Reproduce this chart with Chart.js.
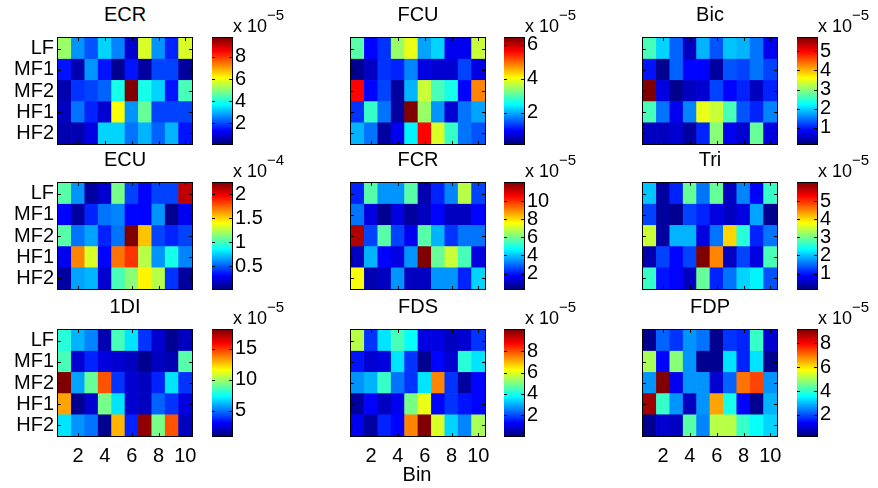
<!DOCTYPE html>
<html>
<head>
<meta charset="utf-8">
<script src="https://cdn.jsdelivr.net/npm/chart.js@4.4.1/dist/chart.umd.min.js"></script>
<style>
  body { margin: 0; background: #fff; }
  #fig { position: relative; width: 878px; height: 488px; overflow: hidden;
         font-family: "Liberation Sans", Arial, Helvetica, sans-serif; color: #000; }
  #fig canvas { position: absolute; }
  .lbl { position: absolute; white-space: nowrap; line-height: 1; }
</style>
</head>
<body>
<div id="fig"></div>
<script>
const bins = [1, 2, 3, 4, 5, 6, 7, 8, 9, 10];
const bands = ["LF", "MF1", "MF2", "HF1", "HF2"];

// cell values, rows LF..HF2, in colorbar units (x 10^-5, ECU x 10^-4)
const ecr = [
  [5.2, 2.7, 2.1, 3.3, 2.6, 1.0, 5.8, 2.7, 1.7, 5.8],
  [1.5, 0.6, 2.7, 1.6, 0.3, 1.5, 0.5, 2.0, 2.0, 0.5],
  [0.7, 1.8, 2.0, 2.3, 4.0, 9.7, 4.0, 3.4, 1.5, 4.4],
  [0.8, 2.4, 1.7, 1.0, 6.1, 2.8, 4.7, 2.0, 2.0, 2.0],
  [0.6, 0.6, 1.1, 3.3, 3.3, 2.4, 3.0, 2.3, 3.0, 1.5]
];
const fcu = [
  [3.0, 1.0, 1.3, 3.4, 3.9, 2.0, 2.3, 0.9, 0.9, 3.7],
  [0.3, 0.6, 1.3, 1.2, 1.8, 0.8, 0.7, 0.7, 1.4, 0.8],
  [5.6, 1.0, 1.4, 0.4, 2.1, 3.7, 2.9, 2.7, 1.0, 4.8],
  [1.3, 2.8, 1.7, 0.4, 6.4, 3.4, 1.9, 0.7, 1.7, 2.0],
  [2.1, 1.7, 0.4, 0.9, 2.5, 5.6, 3.8, 2.8, 1.7, 1.5]
];
const bic = [
  [2.6, 2.0, 1.4, 0.5, 1.8, 1.3, 1.9, 1.8, 1.5, 0.8],
  [1.0, 0.3, 1.4, 0.9, 0.9, 0.4, 1.3, 1.2, 1.5, 1.2],
  [5.7, 0.7, 0.3, 0.5, 0.6, 1.2, 0.9, 1.1, 0.5, 1.1],
  [2.6, 1.5, 0.8, 1.6, 3.5, 3.3, 2.6, 1.3, 1.1, 1.6],
  [0.5, 0.5, 0.6, 0.4, 1.1, 3.0, 0.8, 0.6, 2.8, 0.7]
];
const ecu = [
  [1.04, 0.62, 0.12, 0.23, 1.13, 0.47, 0.32, 0.47, 0.47, 2.08],
  [0.32, 0.12, 0.40, 0.56, 0.60, 0.32, 0.32, 0.62, 0.07, 0.29],
  [1.06, 0.58, 0.67, 0.40, 0.56, 2.23, 1.53, 0.45, 0.40, 0.47],
  [0.29, 1.68, 1.33, 0.32, 1.70, 1.83, 1.26, 0.62, 0.89, 0.60],
  [0.12, 0.67, 0.69, 0.23, 1.02, 1.15, 1.41, 1.24, 0.43, 0.12]
];
const fcr = [
  [2.3, 5.7, 3.5, 3.5, 5.7, 0.9, 2.3, 3.3, 6.7, 2.6],
  [3.1, 1.4, 0.5, 1.4, 0.7, 1.2, 1.8, 1.2, 1.2, 1.8],
  [11.4, 2.6, 5.7, 2.5, 1.7, 5.7, 3.8, 2.4, 3.2, 3.1],
  [1.1, 3.8, 1.9, 1.4, 3.5, 12.0, 5.9, 7.0, 5.5, 1.4],
  [7.6, 1.0, 1.1, 3.5, 1.1, 1.2, 3.5, 3.5, 2.3, 4.3]
];
const tri = [
  [2.0, 0.4, 1.1, 2.9, 1.6, 2.9, 0.6, 1.7, 0.9, 2.7],
  [1.3, 0.4, 0.3, 1.3, 1.1, 0.7, 0.6, 0.7, 1.8, 0.3],
  [3.5, 0.4, 1.9, 1.9, 0.7, 1.6, 4.0, 2.6, 1.1, 1.6],
  [0.5, 1.3, 0.9, 1.3, 6.0, 4.5, 0.6, 1.3, 0.7, 2.8],
  [2.7, 1.0, 0.9, 0.6, 2.9, 1.1, 1.6, 2.1, 2.3, 1.4]
];
const di1 = [
  [8.1, 6.2, 5.3, 1.8, 8.6, 6.9, 4.1, 2.3, 1.4, 2.1],
  [8.4, 2.3, 3.8, 2.6, 2.4, 2.1, 1.4, 2.1, 1.9, 8.8],
  [18.0, 5.9, 9.1, 14.4, 4.1, 2.4, 2.1, 3.6, 6.9, 4.0],
  [13.0, 1.4, 2.3, 9.4, 6.9, 2.4, 2.1, 4.7, 4.1, 2.6],
  [6.9, 5.5, 5.0, 1.4, 12.8, 3.6, 17.5, 9.4, 14.4, 2.1]
];
const fds = [
  [5.5, 1.8, 3.5, 4.5, 3.9, 1.0, 1.0, 0.7, 0.9, 1.8],
  [1.6, 0.9, 1.0, 3.5, 1.9, 0.3, 1.3, 0.9, 4.2, 3.5],
  [2.7, 3.1, 4.4, 2.4, 1.8, 3.5, 7.5, 1.8, 0.5, 1.3],
  [0.5, 1.3, 0.7, 1.2, 5.0, 6.1, 1.3, 1.9, 1.6, 1.3],
  [1.2, 0.5, 1.7, 1.3, 7.5, 10.0, 5.9, 3.4, 2.6, 5.4]
];
const fdp = [
  [0.5, 2.2, 1.9, 2.6, 2.4, 0.5, 1.8, 1.7, 4.1, 1.0],
  [5.0, 1.4, 4.7, 2.6, 0.5, 0.5, 3.3, 1.7, 3.3, 0.5],
  [2.6, 9.1, 1.3, 2.6, 2.7, 1.0, 2.2, 7.0, 7.4, 2.7],
  [8.8, 4.1, 2.6, 0.8, 2.6, 6.6, 3.8, 1.4, 0.4, 3.0],
  [0.5, 1.0, 0.8, 4.3, 2.5, 5.1, 5.1, 4.0, 3.6, 3.2]
];

// colour limits and colorbar ticks
const ecrLim = [0.15, 9.7],  ecrTicks = [2, 4, 6, 8];
const fcuLim = [0.17, 6.4],  fcuTicks = [2, 4, 6];
const bicLim = [0.15, 5.7],  bicTicks = [1, 2, 3, 4, 5];
const ecuLim = [0.03, 2.23], ecuTicks = [0.5, 1, 1.5, 2];
const fcrLim = [0.3, 12.0],  fcrTicks = [2, 4, 6, 8, 10];
const triLim = [0.15, 6.0],  triTicks = [1, 2, 3, 4, 5];
const di1Lim = [0.9, 18.0],  di1Ticks = [5, 10, 15];
const fdsLim = [0.05, 10.0], fdsTicks = [2, 4, 6, 8];
const fdpLim = [0.24, 9.1],  fdpTicks = [2, 4, 6, 8];

const panels = [
  { name: "ECR", vals: ecr, lim: ecrLim, ticks: ecrTicks, exp: -5 },
  { name: "FCU", vals: fcu, lim: fcuLim, ticks: fcuTicks, exp: -5 },
  { name: "Bic", vals: bic, lim: bicLim, ticks: bicTicks, exp: -5 },
  { name: "ECU", vals: ecu, lim: ecuLim, ticks: ecuTicks, exp: -4 },
  { name: "FCR", vals: fcr, lim: fcrLim, ticks: fcrTicks, exp: -5 },
  { name: "Tri", vals: tri, lim: triLim, ticks: triTicks, exp: -5 },
  { name: "1DI", vals: di1, lim: di1Lim, ticks: di1Ticks, exp: -5 },
  { name: "FDS", vals: fds, lim: fdsLim, ticks: fdsTicks, exp: -5 },
  { name: "FDP", vals: fdp, lim: fdpLim, ticks: fdpTicks, exp: -5 }
];

// layout
const colLeft = [58, 351, 643];
const rowTop = [38, 183, 330];
const barLeft = [212, 504, 797];
const W = 134, H = 106, CBW = 20;
const FONT = { family: '"Liberation Sans", Arial, Helvetica, sans-serif', size: 20 };

const fig = document.getElementById("fig");

function clamp(x) { return Math.max(0, Math.min(1, x)); }
function jetRGB(t) {
  const r = clamp(1.5 - Math.abs(4 * t - 3));
  const g = clamp(1.5 - Math.abs(4 * t - 2));
  const b = clamp(1.5 - Math.abs(4 * t - 1));
  return "rgb(" + Math.round(r * 255) + "," + Math.round(g * 255) + "," + Math.round(b * 255) + ")";
}
// 64-level jet like matlab
function jet(v, lim) {
  let i = Math.floor((v - lim[0]) / (lim[1] - lim[0]) * 64);
  i = Math.max(0, Math.min(63, i));
  return jetRGB(i / 63);
}

function addCanvas(left, top, w, h) {
  const cv = document.createElement("canvas");
  cv.width = w; cv.height = h;
  cv.style.left = left + "px"; cv.style.top = top + "px";
  cv.style.width = w + "px"; cv.style.height = h + "px";
  fig.appendChild(cv);
  return cv;
}

function addLabel(html, left, top, size, center) {
  const d = document.createElement("div");
  d.className = "lbl";
  d.innerHTML = html;
  d.style.left = left + "px";
  d.style.top = top + "px";
  d.style.fontSize = size + "px";
  if (center) d.style.transform = "translateX(-50%)";
  fig.appendChild(d);
}

// black box + inward tick marks
const frame = {
  id: "frame",
  afterDraw(chart, args, opts) {
    const a = chart.chartArea, ctx = chart.ctx;
    ctx.save();
    ctx.strokeStyle = "#000";
    ctx.lineWidth = 1;
    ctx.beginPath();
    (opts.xt || []).forEach(i => {
      const px = Math.round(chart.scales.x.getPixelForValue(i)) + 0.5;
      ctx.moveTo(px, a.bottom); ctx.lineTo(px, a.bottom - 3);
      ctx.moveTo(px, a.top); ctx.lineTo(px, a.top + 3);
    });
    (opts.yt || []).forEach(v => {
      const py = Math.round(chart.scales.y.getPixelForValue(v)) + 0.5;
      ctx.moveTo(a.left, py); ctx.lineTo(a.left + 3, py);
      ctx.moveTo(a.right, py); ctx.lineTo(a.right - 3, py);
    });
    ctx.stroke();
    ctx.strokeRect(a.left - 0.5, a.top - 0.5, a.right - a.left + 1, a.bottom - a.top + 1);
    ctx.restore();
  }
};

function heatmap(p, col, row) {
  const cv = addCanvas(colLeft[col] - 56, rowTop[row] - 8, 56 + W + 6, 8 + H + 38);
  const datasets = [];
  for (let k = bands.length - 1; k >= 0; k--) {
    datasets.push({
      label: bands[k],
      data: bins.map(() => 1),
      backgroundColor: p.vals[k].map(v => jet(v, p.lim)),
      borderWidth: 0,
      categoryPercentage: 1,
      barPercentage: 1
    });
  }
  new Chart(cv, {
    type: "bar",
    data: { labels: bins, datasets },
    options: {
      responsive: false, animation: false, devicePixelRatio: 1,
      layout: { padding: { top: 8, right: 6, left: 0, bottom: 0 } },
      plugins: {
        legend: { display: false }, tooltip: { enabled: false },
        frame: { xt: [1, 3, 5, 7, 9], yt: [0.5, 1.5, 2.5, 3.5, 4.5] }
      },
      scales: {
        x: {
          stacked: true,
          grid: { display: false, drawTicks: false }, border: { display: false },
          ticks: {
            autoSkip: false, maxRotation: 0, padding: 8, color: "#000", font: FONT,
            callback: (v, i) => (row === 2 && bins[i] % 2 === 0) ? String(bins[i]) : ""
          },
          afterFit(s) { s.height = 38; s.paddingLeft = 0; s.paddingRight = 0; }
        },
        y: {
          stacked: true, min: 0, max: 5,
          grid: { display: false, drawTicks: false }, border: { display: false },
          afterBuildTicks(s) { s.ticks = [0.5, 1.5, 2.5, 3.5, 4.5].map(v => ({ value: v })); },
          ticks: {
            autoSkip: false, padding: 4, color: "#000", font: FONT,
            callback: v => col === 0 ? bands[4 - Math.floor(v)] : ""
          },
          afterFit(s) { s.width = 56; s.paddingTop = 0; s.paddingBottom = 0; }
        }
      }
    },
    plugins: [frame]
  });
}

function colorbar(p, col, row) {
  const cv = addCanvas(barLeft[col], rowTop[row] - 12, CBW + 44, H + 24);
  new Chart(cv, {
    type: "bar",
    data: {
      labels: [""],
      datasets: [{
        data: [p.lim],
        borderWidth: 0, categoryPercentage: 1, barPercentage: 1,
        backgroundColor(ctx) {
          const a = ctx.chart.chartArea;
          if (!a) return null;
          const g = ctx.chart.ctx.createLinearGradient(0, a.bottom, 0, a.top);
          [0, 0.125, 0.375, 0.625, 0.875, 1].forEach(t => g.addColorStop(t, jetRGB(t)));
          return g;
        }
      }]
    },
    options: {
      responsive: false, animation: false, devicePixelRatio: 1,
      layout: { padding: { top: 12, bottom: 12, left: 0, right: 0 } },
      plugins: {
        legend: { display: false }, tooltip: { enabled: false },
        frame: { yt: p.ticks }
      },
      scales: {
        x: { display: false },
        y: {
          position: "right", min: p.lim[0], max: p.lim[1],
          grid: { display: false, drawTicks: false }, border: { display: false },
          afterBuildTicks(s) { s.ticks = p.ticks.map(v => ({ value: v })); },
          ticks: { autoSkip: false, padding: 3, color: "#000", font: FONT, callback: v => String(v) },
          afterFit(s) { s.width = 44; s.paddingTop = 0; s.paddingBottom = 0; }
        }
      }
    },
    plugins: [frame]
  });
}

panels.forEach((p, i) => {
  const col = i % 3, row = Math.floor(i / 3);
  heatmap(p, col, row);
  colorbar(p, col, row);
  addLabel(p.name, colLeft[col] + W / 2, rowTop[row] - 34, 20, true);
  addLabel('x 10<span style="font-size:15px;position:relative;top:-12px">\u2212' + (-p.exp) + '</span>',
           barLeft[col] + CBW + 1, rowTop[row] - 21.5, 18, false);
});
addLabel("Bin", colLeft[1] + W / 2 - 1, 463.5, 20, true);
</script>
</body>
</html>
